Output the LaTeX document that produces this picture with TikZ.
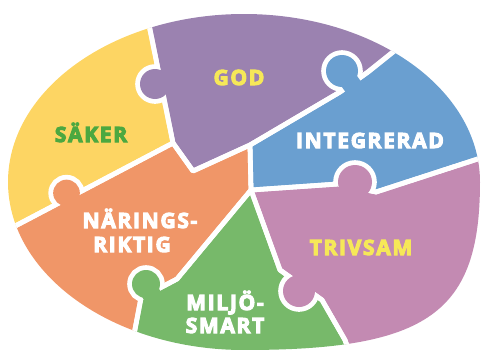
\documentclass[tikz,border=0pt]{standalone}
\usepackage{fontspec}
\usetikzlibrary{calc}
\newfontfamily\labfont{Open Sans}[LetterSpace=8,BoldFeatures={FakeBold=5}]
\definecolor{cY}{RGB}{253,213,99}
\definecolor{cP}{RGB}{155,130,176}
\definecolor{cB}{RGB}{106,159,208}
\definecolor{cK}{RGB}{195,138,178}
\definecolor{cG}{RGB}{119,185,106}
\definecolor{cO}{RGB}{240,150,104}
\definecolor{tG}{RGB}{76,168,64}
\definecolor{tY}{RGB}{246,232,88}
\def\pYel{(144,0) -- (173,143) -- (0,234) -- (0,0) -- cycle}
\def\pPur{(144,0) -- (173,143) -- (193,171) -- (250,145) -- (340,92) -- (368,72) -- (458,0) -- cycle}
\def\pBlu{(458,0) -- (368,72) -- (340,92) -- (250,145) -- (251,190) -- (338,184) -- (376,192) -- (490,155) -- (490,0) -- cycle}
\def\pPnk{(251,190) -- (338,184) -- (376,192) -- (490,155) -- (490,360) -- (352,360) -- (345,340) -- (322,300) -- (280,270) -- cycle}
\def\pGrn{(251,190) -- (280,270) -- (322,300) -- (345,340) -- (352,360) -- (128,360) -- (132,345) -- (141,298) -- (177,279) -- cycle}
\def\pOra{(173,143) -- (193,171) -- (250,145) -- (251,190) -- (177,279) -- (141,298) -- (132,345) -- (128,360) -- (0,360) -- (0,234) -- cycle}
% #1 owner colour, #2 neighbour path, #3 centre, #4 #5 boundary line, #6 radius, #7 half neck
\newcommand\knob[7]{%
  \coordinate (kc) at #3;
  \coordinate (kf) at ($#4!(kc)!#5$);
  \coordinate (ke) at ($(kf)!-4pt!(kc)$);
  \begin{scope}\clip #2;
    \draw[white,line width=7.2pt] (kc) circle (#6);
    \draw[white,line width=7.2pt] ($(kc)!#7!90:(ke)$) -- ($(ke)!#7!-90:(kc)$)
      -- ($(ke)!#7!90:(kc)$) -- ($(kc)!#7!-90:(ke)$) -- cycle;
  \end{scope}
  \fill[#1] (kc) circle (#6);
  \fill[#1] ($(kc)!#7!90:(ke)$) -- ($(ke)!#7!-90:(kc)$)
      -- ($(ke)!#7!90:(kc)$) -- ($(kc)!#7!-90:(ke)$) -- cycle;}
\begin{document}
\begin{tikzpicture}[x=0.75pt,y=-0.75pt,
  gap/.style={draw=white,line width=3.6pt,line join=round},
  lab/.style={font=\labfont\bfseries\fontsize{15.75}{18}\selectfont,anchor=base,inner sep=0pt}]
\useasboundingbox (0,0) rectangle (483,350);
\begin{scope}
\clip (8,182) .. controls (8,89.2) and (113.7,14) .. (244,14)
  .. controls (374.3,14) and (480,89.2) .. (480,182)
  .. controls (480,313) and (428,350) .. (244,350)
  .. controls (113.7,350) and (8,274.8) .. (8,182) -- cycle;
\fill[cY] \pYel; \fill[cP] \pPur; \fill[cB] \pBlu;
\fill[cK] \pPnk; \fill[cG] \pGrn; \fill[cO] \pOra;
\draw[gap] \pYel; \draw[gap] \pPur; \draw[gap] \pBlu;
\draw[gap] \pPnk; \draw[gap] \pGrn; \draw[gap] \pOra;
\knob{cP}{\pYel}{(155,84)}{(144,0)}{(173,143)}{11.25pt}{8pt}
\knob{cO}{\pYel}{(66.5,193)}{(173,143)}{(0,234)}{10pt}{7pt}
\knob{cB}{\pPur}{(342,71)}{(340,92)}{(368,72)}{12pt}{7pt}
\knob{cK}{\pBlu}{(355,182)}{(338,184)}{(376,192)}{12.75pt}{9pt}
\knob{cG}{\pOra}{(146,284)}{(177,279)}{(141,298)}{10.5pt}{7pt}
\knob{cK}{\pGrn}{(299,291)}{(280,270)}{(322,300)}{12pt}{8pt}
\end{scope}
\node[lab,text=tG] (saker) at (91,142) {SÄKER};
\node[lab,text=tY] (god) at (239,85) {GOD};
\node[lab,text=white] (integ) at (370,148) {INTEGRERAD};
\node[lab,text=tY] (trivsam) at (361,255) {TRIVSAM};
\node[lab,text=white] (nar) at (140,228) {NÄRINGS-};
\node[lab,text=white] (rik) at (132,252) {RIKTIG};
\node[lab,text=white] (milj) at (225,310) {MILJÖ-};
\node[lab,text=white] (smart) at (225,333) {SMART};
\end{tikzpicture}
\end{document}
